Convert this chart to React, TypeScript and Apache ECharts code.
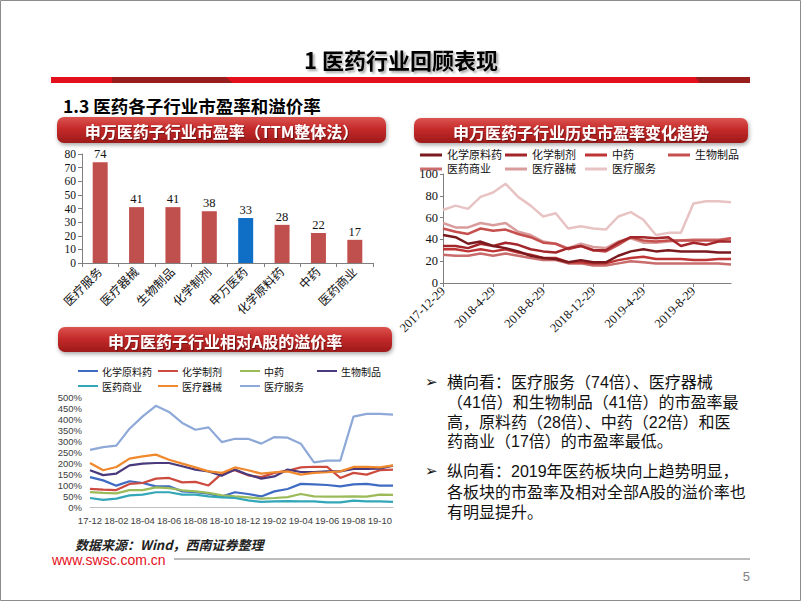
import { useEffect, useRef } from "react";
import * as echarts from "echarts";

// ---------- data ----------
const barCategories = ["医疗服务", "医疗器械", "生物制品", "化学制剂", "申万医药", "化学原料药", "中药", "医药商业"];
const barValues = [74, 41, 41, 38, 33, 28, 22, 17];
const barHighlight = "申万医药";

const peDates = [
  "2017-12-29", "2018-1-29", "2018-2-28", "2018-3-29", "2018-4-29", "2018-5-29", "2018-6-29", "2018-7-29",
  "2018-8-29", "2018-9-29", "2018-10-29", "2018-11-29", "2018-12-29", "2019-1-29", "2019-2-28", "2019-3-29",
  "2019-4-29", "2019-5-29", "2019-6-29", "2019-7-29", "2019-8-29", "2019-9-29", "2019-10-29", "2019-11-29",
];
const premMonths = [
  "17-12", "18-01", "18-02", "18-03", "18-04", "18-05", "18-06", "18-07", "18-08", "18-09", "18-10", "18-11",
  "18-12", "19-01", "19-02", "19-03", "19-04", "19-05", "19-06", "19-07", "19-08", "19-09", "19-10", "19-11",
];
const seriesNames = ["化学原料药", "化学制剂", "中药", "生物制品", "医药商业", "医疗器械", "医疗服务"];

// PE (TTM) history
const peChemAPI = [44, 42, 36, 38, 34, 32, 29, 25, 23, 22, 19, 21, 19, 19, 25, 29, 31, 29, 30, 29, 29, 29, 28, 28];
const peChemPrep = [34, 34, 32, 36, 34, 37, 35, 31, 29, 28, 32, 34, 30, 30, 37, 42, 42, 41, 42, 34, 37, 35, 38, 38];
const peTCM = [31, 31, 29, 31, 29, 31, 28, 26, 23, 23, 19, 19, 18, 18, 21, 23, 24, 22, 22, 22, 21, 21, 22, 22];
const peBio = [50, 47, 45, 50, 48, 49, 45, 42, 37, 36, 31, 34, 30, 29, 35, 42, 39, 38, 39, 39, 39, 39, 39, 41];
const peCommerce = [26, 25, 25, 27, 25, 27, 25, 23, 21, 21, 18, 18, 16, 16, 18, 20, 19, 18, 18, 18, 18, 18, 18, 17];
const peDevice = [55, 51, 51, 55, 53, 55, 47, 44, 38, 36, 32, 36, 33, 32, 38, 41, 37, 37, 38, 39, 40, 40, 40, 41];
const peService = [67, 71, 68, 79, 83, 91, 79, 71, 61, 64, 50, 52, 50, 49, 61, 65, 58, 44, 46, 46, 73, 75, 75, 74];

// premium vs A-share (%)
const prChemAPI = [136, 121, 97, 117, 109, 94, 94, 71, 68, 61, 48, 67, 59, 48, 71, 82, 105, 103, 100, 94, 103, 105, 97, 97];
const prChemPrep = [82, 79, 77, 105, 109, 129, 132, 112, 114, 98, 152, 167, 144, 136, 155, 165, 180, 183, 182, 132, 155, 147, 167, 170];
const prTCM = [68, 64, 62, 77, 77, 89, 86, 76, 71, 64, 53, 48, 44, 38, 41, 45, 59, 48, 47, 47, 48, 47, 56, 55];
const prBio = [167, 145, 152, 189, 197, 200, 200, 185, 170, 162, 142, 170, 147, 129, 139, 170, 159, 159, 162, 162, 173, 173, 174, 188];
const prCommerce = [41, 32, 38, 53, 56, 67, 67, 56, 56, 48, 44, 41, 30, 23, 26, 27, 26, 26, 21, 21, 29, 26, 26, 23];
const prDevice = [200, 167, 182, 220, 230, 238, 215, 197, 180, 162, 155, 180, 167, 152, 158, 162, 147, 155, 158, 162, 182, 182, 180, 189];
const prService = [260, 272, 279, 356, 412, 460, 432, 382, 351, 362, 295, 310, 310, 288, 318, 315, 288, 203, 211, 211, 411, 423, 423, 420];

const peData = [peChemAPI, peChemPrep, peTCM, peBio, peCommerce, peDevice, peService];
const prData = [prChemAPI, prChemPrep, prTCM, prBio, prCommerce, prDevice, prService];

const mainTitle = "1 医药行业回顾表现";
const subTitle = "1.3 医药各子行业市盈率和溢价率";
const panelTitles = ["申万医药子行业市盈率（TTM整体法）", "申万医药子行业历史市盈率变化趋势", "申万医药子行业相对A股的溢价率"];
const bodyLines = [
  "横向看：医疗服务（74倍）、医疗器械",
  "（41倍）和生物制品（41倍）的市盈率最",
  "高，原料药（28倍）、中药（22倍）和医",
  "药商业（17倍）的市盈率最低。",
  "纵向看：2019年医药板块向上趋势明显，",
  "各板块的市盈率及相对全部A股的溢价率也",
  "有明显提升。",
];
const bulletLineIdx = [0, 4];
const sourceText = "数据来源：Wind，西南证券整理";
const siteText = "www.swsc.com.cn";
const pageNo = "5";

// ---------- styles ----------
const SERIF = "'Liberation Serif','Times New Roman','Noto Sans CJK SC',serif";
const CJK = "'Noto Sans CJK SC','Microsoft YaHei',sans-serif";
const SANS = "'Liberation Sans',Arial,'Noto Sans CJK SC',sans-serif";
const peColors = ["#7a1a1e", "#a3262a", "#bf3434", "#c5504e", "#c96c6c", "#d99c9c", "#e8c3c3"];
const prColors = ["#3f6cc2", "#cc4a3e", "#9bbb59", "#4a3a7c", "#33a6b8", "#f0882c", "#8ea9d8"];
const peLegendPos = [[420, 155], [505, 155], [585, 155], [668, 155], [420, 169], [505, 169], [585, 169]];
const prLegendPos = [[78, 371], [158, 371], [240, 371], [317, 371], [78, 386], [158, 386], [240, 386]];
const bodyY = [382, 402, 422, 441, 471, 492, 512];

function header(x: number, y: number, w: number, h: number, text: string) {
  return [
    {
      type: "rect",
      shape: { x, y, width: w, height: h, r: 7 },
      style: {
        fill: new echarts.graphic.LinearGradient(0, 0, 0, 1, [
          { offset: 0, color: "#dc5450" },
          { offset: 0.45, color: "#c52a2a" },
          { offset: 1, color: "#9e1a1a" },
        ]),
        shadowBlur: 4,
        shadowOffsetX: 1,
        shadowOffsetY: 2,
        shadowColor: "rgba(0,0,0,0.35)",
      },
    },
    {
      type: "text",
      x: x + w / 2,
      y: y + h / 2 + 1,
      style: {
        text,
        fill: "#ffffff",
        fontSize: 16,
        fontWeight: "bold",
        fontFamily: CJK,
        textAlign: "center",
        textVerticalAlign: "middle",
        textShadowColor: "rgba(0,0,0,0.35)",
        textShadowOffsetX: 1,
        textShadowOffsetY: 1,
        textShadowBlur: 1,
      },
    },
  ];
}

function legend(pos: number[][], colors: string[], lw: number, fontSize: number, family: string, len: number, gap: number) {
  const out: any[] = [];
  seriesNames.forEach((n, i) => {
    const [x, y] = pos[i];
    out.push({
      type: "line",
      shape: { x1: x, y1: y, x2: x + len, y2: y },
      style: { stroke: colors[i], lineWidth: lw },
    });
    out.push({
      type: "text",
      x: x + len + gap,
      y,
      style: { text: n, fill: "#111", fontSize, fontFamily: family, textVerticalAlign: "middle" },
    });
  });
  return out;
}

export default function App() {
  const ref = useRef<HTMLDivElement>(null);
  useEffect(() => {
    if (!ref.current) return;
    const chart = echarts.init(ref.current, undefined, { renderer: "svg" });

    const graphics: any[] = [
      { type: "rect", shape: { x: 0.5, y: 0.5, width: 800, height: 600 }, style: { fill: "none", stroke: "#8c8c8c", lineWidth: 1 } },
      {
        type: "text",
        x: 401,
        y: 59,
        style: {
          text: mainTitle,
          fill: "#000",
          fontSize: 22,
          fontWeight: "bold",
          fontFamily: CJK,
          textAlign: "center",
          textVerticalAlign: "middle",
          textShadowColor: "rgba(0,0,0,0.35)",
          textShadowOffsetX: 2,
          textShadowOffsetY: 2,
          textShadowBlur: 2,
        },
      },
      { type: "rect", shape: { x: 51, y: 77, width: 699, height: 6 }, style: { fill: "#e3101c" } },
      { type: "polygon", shape: { points: [[112, 77], [226, 77], [233, 83], [112, 83]] }, style: { fill: "#981d1d" } },
      { type: "polygon", shape: { points: [[695, 77], [750, 77], [750, 83], [700, 83]] }, style: { fill: "#981d1d" } },
      {
        type: "text",
        x: 63,
        y: 105,
        style: { text: subTitle, fill: "#000", fontSize: 17.5, fontWeight: "bold", fontFamily: CJK, textVerticalAlign: "middle" },
      },
      ...header(57, 117, 329, 26, panelTitles[0]),
      ...header(414, 118, 334, 25, panelTitles[1]),
      ...header(58, 327, 334, 25, panelTitles[2]),
      ...legend(peLegendPos, peColors, 3, 11, SERIF, 22, 5),
      ...legend(prLegendPos, prColors, 2, 10, CJK, 20, 4),
      ...bodyLines.map((t, i) => ({
        type: "text",
        x: 447,
        y: bodyY[i],
        style: {
          text: t,
          fill: "#111",
          fontSize: 16,
          lineHeight: 17,
          fontFamily: SANS,
          textVerticalAlign: "middle",
        },
      })),
      ...bulletLineIdx.map((li) => ({
        type: "text",
        x: 425,
        y: bodyY[li],
        style: {
          text: "➢",
          fill: "#111",
          fontSize: 15,
          lineHeight: 16,
          fontFamily: "'DejaVu Sans',sans-serif",
          textVerticalAlign: "middle",
        },
      })),
      {
        type: "text",
        x: 75,
        y: 544,
        style: { text: sourceText, fill: "#222", fontSize: 13, fontStyle: "italic", fontWeight: "bold", fontFamily: CJK, textVerticalAlign: "middle" },
      },
      {
        type: "text",
        x: 52,
        y: 560,
        style: { text: siteText, fill: "#e3101c", fontSize: 14, fontFamily: SANS, textVerticalAlign: "middle" },
      },
      { type: "line", shape: { x1: 174, y1: 559, x2: 750, y2: 559 }, style: { stroke: "#a6a6a6", lineWidth: 1.5 } },
      {
        type: "text",
        x: 750,
        y: 576,
        style: { text: pageNo, fill: "#7f7f7f", fontSize: 13, fontFamily: SANS, textAlign: "right", textVerticalAlign: "middle" },
      },
    ];

    const axisGray = "#7f7f7f";

    const option: any = {
      animation: false,
      backgroundColor: "#ffffff",
      grid: [
        { left: 82, top: 154, width: 291, height: 109, containLabel: false },
        { left: 443, top: 174, width: 288, height: 109, containLabel: false },
        { left: 90, top: 397, width: 303, height: 110, containLabel: false },
      ],
      xAxis: [
        {
          gridIndex: 0,
          type: "category",
          data: barCategories,
          axisLine: { lineStyle: { color: axisGray } },
          axisTick: { show: true, length: 4, lineStyle: { color: axisGray } },
          axisLabel: { rotate: 45, fontSize: 12, fontFamily: SERIF, color: "#111", margin: 7, interval: 0 },
        },
        {
          gridIndex: 1,
          type: "category",
          data: peDates,
          boundaryGap: false,
          axisLine: { lineStyle: { color: axisGray } },
          axisTick: { show: true, interval: 3, length: 4, lineStyle: { color: axisGray } },
          axisLabel: { interval: 3, rotate: 45, fontSize: 12.5, fontFamily: SERIF, color: "#111", margin: 6 },
        },
        {
          gridIndex: 2,
          type: "category",
          data: premMonths,
          boundaryGap: false,
          axisLine: { lineStyle: { color: "#bfbfbf" } },
          axisTick: { show: false },
          axisLabel: { interval: 1, fontSize: 9.5, fontFamily: SANS, color: "#404040", margin: 9 },
        },
      ],
      yAxis: [
        {
          gridIndex: 0,
          type: "value",
          min: 0,
          max: 80,
          interval: 10,
          axisLine: { show: true, lineStyle: { color: axisGray } },
          axisTick: { show: true, length: 4, lineStyle: { color: axisGray } },
          splitLine: { show: false },
          axisLabel: { fontSize: 11.5, fontFamily: SERIF, color: "#111", margin: 6 },
        },
        {
          gridIndex: 1,
          type: "value",
          min: 0,
          max: 100,
          interval: 20,
          axisLine: { show: true, lineStyle: { color: axisGray } },
          axisTick: { show: true, length: 3, lineStyle: { color: axisGray } },
          splitLine: { show: false },
          axisLabel: { fontSize: 12.5, fontFamily: SERIF, color: "#111", margin: 5 },
        },
        {
          gridIndex: 2,
          type: "value",
          min: 0,
          max: 500,
          interval: 50,
          axisLine: { show: false },
          axisTick: { show: false },
          splitLine: { show: false },
          axisLabel: { fontSize: 9.5, fontFamily: SANS, color: "#404040", margin: 8, formatter: "{value}%" },
        },
      ],
      series: [
        {
          type: "bar",
          xAxisIndex: 0,
          yAxisIndex: 0,
          data: barValues.map((v, i) => ({
            value: v,
            itemStyle: { color: barCategories[i] === barHighlight ? "#0f6fc6" : "#c0504d" },
          })),
          barWidth: 15,
          label: { show: true, position: "top", distance: 2, fontSize: 12.5, fontFamily: SERIF, color: "#111" },
        },
        ...seriesNames.map((n, i) => ({
          name: n,
          type: "line",
          xAxisIndex: 1,
          yAxisIndex: 1,
          data: peData[i],
          symbol: "none",
          z: 10 - i,
          lineStyle: { color: peColors[i], width: 2.5 },
          itemStyle: { color: peColors[i] },
        })),
        ...seriesNames.map((n, i) => ({
          name: n + " ",
          type: "line",
          xAxisIndex: 2,
          yAxisIndex: 2,
          data: prData[i],
          symbol: "none",
          lineStyle: { color: prColors[i], width: 2.2 },
          itemStyle: { color: prColors[i] },
        })),
      ],
      graphic: graphics,
    };

    chart.setOption(option);
    return () => chart.dispose();
  }, []);

  return <div ref={ref} style={{ position: "fixed", left: 0, top: 0, width: 802, height: 602, background: "#fff" }} />;
}
